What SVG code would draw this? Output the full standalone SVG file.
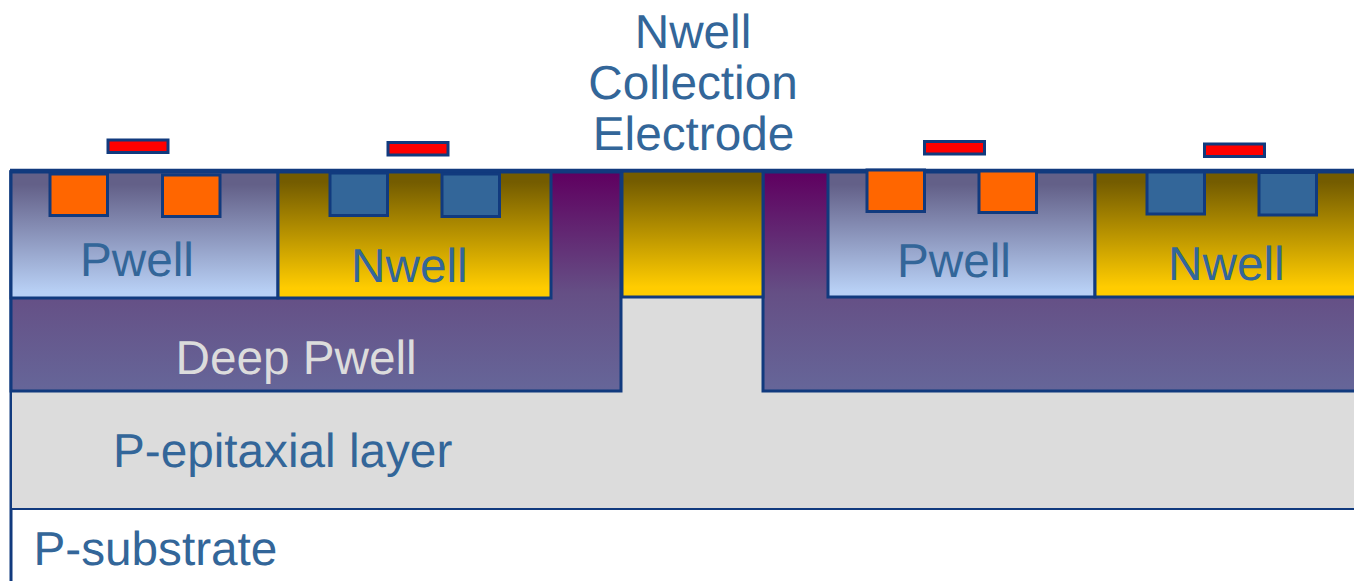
<svg xmlns="http://www.w3.org/2000/svg" width="1354" height="581" viewBox="0 0 1354 581">
<style>
.o{stroke:#113A7E;stroke-width:3}
.t{font-family:"Liberation Sans",Arial,sans-serif;font-size:47.7px;fill:#336699;text-rendering:geometricPrecision}
.c{fill:#FF6600}.b{fill:#336699}
.r{fill:#FF0000;stroke:#113A7E;stroke-width:3}
</style>
<defs>
<linearGradient id="gp" x1="0" y1="0" x2="0" y2="1"><stop offset="0.1" stop-color="#636088"/><stop offset="0.95" stop-color="#B8D0F5"/></linearGradient>
<linearGradient id="gn" x1="0" y1="0" x2="0" y2="1"><stop offset="0.08" stop-color="#745C00"/><stop offset="0.92" stop-color="#FFCC00"/></linearGradient>
<linearGradient id="gd" gradientUnits="userSpaceOnUse" x1="0" y1="173" x2="0" y2="391"><stop offset="0" stop-color="#5F0060"/><stop offset="0.55" stop-color="#654F85"/><stop offset="1" stop-color="#666699"/></linearGradient>
</defs>
<rect width="1354" height="581" fill="#FFFFFF"/>
<g id="p-substrate"><path d="M11 170V581" fill="none" class="o"/><text class="t" x="33.500" y="565">P-substrate</text></g>
<g id="epi"><path class="o" d="M11 391H621V297H763V391H1356V509H11Z" fill="#DCDCDC" style="stroke-width:2"/><text class="t" x="113" y="467">P-epitaxial layer</text></g>
<g id="deep-left"><path class="o" d="M11 172H621V391H11Z" fill="url(#gd)"/><text class="t" x="175.500" y="374" style="fill:#DCDCDC">Deep Pwell</text></g>
<g id="deep-right"><path class="o" d="M763 172H1356V391H763Z" fill="url(#gd)"/></g>
<g id="pwell-left"><rect class="o" x="11" y="172" width="267" height="126" fill="url(#gp)"/><text class="t" x="80" y="276">Pwell</text></g>
<g id="nwell-left"><rect class="o" x="278" y="172" width="273" height="126" fill="url(#gn)"/><text class="t" x="351" y="282">Nwell</text></g>
<g id="nwell-center"><rect class="o" x="622" y="171" width="141" height="126" fill="url(#gn)"/></g>
<g id="pwell-right"><rect class="o" x="828" y="172" width="267" height="125" fill="url(#gp)"/><text class="t" x="897" y="277">Pwell</text></g>
<g id="nwell-right"><rect class="o" x="1095" y="172" width="261" height="125" fill="url(#gn)"/><text class="t" x="1168" y="280">Nwell</text></g>
<path d="M10 170.500H1354" fill="none" stroke="#113A7E" stroke-width="3.500"/>
<g id="contacts">
<rect class="o c" x="50" y="174" width="57.500" height="41.500"/>
<rect class="o c" x="162.500" y="175" width="57.500" height="41.500"/>
<rect class="o b" x="330" y="173" width="57.500" height="42.500"/>
<rect class="o b" x="442" y="174" width="57.500" height="42.500"/>
<rect class="o c" x="867" y="170" width="57.500" height="41.500"/>
<rect class="o c" x="979" y="171" width="57.500" height="41.500"/>
<rect class="o b" x="1147" y="172" width="57.500" height="42"/>
<rect class="o b" x="1259" y="172.500" width="57.500" height="42.500"/>
</g>
<g id="strips">
<rect class="r" x="108" y="140" width="60" height="12.500"/>
<rect class="r" x="388" y="142.500" width="60" height="12.500"/>
<rect class="r" x="924.500" y="141.500" width="60" height="12.500"/>
<rect class="r" x="1204.500" y="144" width="60" height="12.500"/>
</g>
<g id="label"><text class="t" x="693" y="48" text-anchor="middle">Nwell</text><text class="t" x="693" y="99" text-anchor="middle">Collection</text><text class="t" x="693.500" y="150" text-anchor="middle">Electrode</text></g>
</svg>
